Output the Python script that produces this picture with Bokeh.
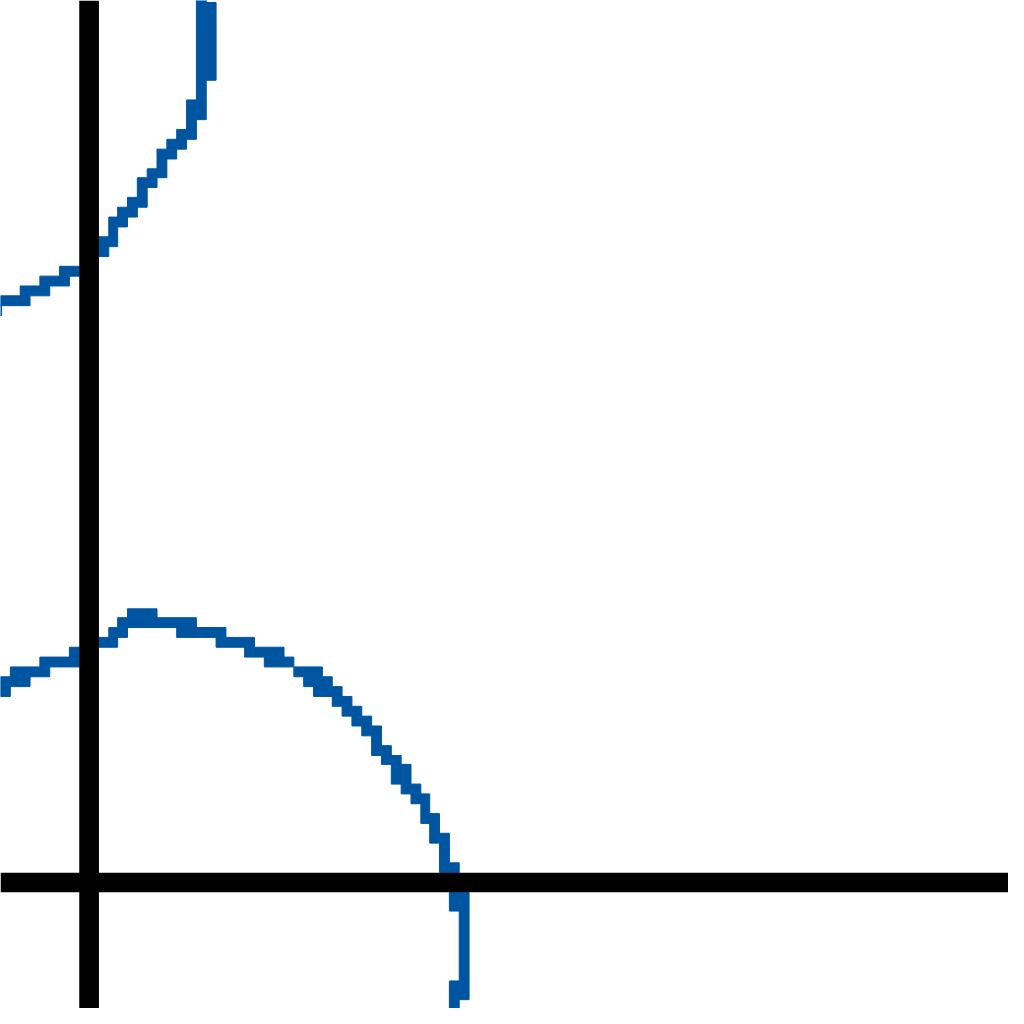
from bokeh.plotting import figure
from bokeh.models import Range1d, Span
from bokeh.embed import file_html
from bokeh.resources import INLINE

# Upper branch: step cells (left, right, bottom, top) in plot units, origin at the axes' crossing
upper_left   = [109, 119, 99, 89, 79, 69, 69, 59, 49, 49, 39, 29, 20, 20, 10, 10, -30, -50, -70, -90, -100]
upper_right  = [119, 129, 109, 99, 99, 89, 79, 69, 69, 59, 49, 49, 39, 29, 29, 20, -10, -20, -40, -60, -89]
upper_bottom = [775, 815, 755, 755, 745, 735, 716, 716, 706, 686, 686, 676, 666, 656, 646, 636, 616, 606, 596, 586, 576]
upper_top    = [900, 894, 795, 765, 755, 745, 735, 725, 716, 706, 696, 686, 676, 666, 656, 646, 626, 616, 606, 596, 586]

# Lower branch
lower_left   = [-90, -80, -60, -50, -20, 10, 20, 29, 39, 69, 89, 129, 158, 178, 208, 218, 228, 247, 257, 267,
                277, 287, 287, 297, 307, 317, 327, 337, 337, 346, 346, 356, 356, 366, 376, 366, 366]
lower_right  = [-80, -60, -40, -10, -10, 29, 39, 69, 69, 109, 139, 168, 198, 208, 237, 247, 257, 267, 277, 287,
                297, 297, 307, 317, 327, 337, 346, 346, 356, 356, 366, 366, 376, 386, 386, 386, 376]
lower_bottom = [189, 199, 209, 219, 229, 239, 249, 259, 269, 259, 249, 239, 229, 219, 209, 199, 189, 179, 169, 159,
                149, 139, 129, 120, 100, 90, 80, 70, 60, 50, 40, 20, 10, -29, -100, -119, -135]
lower_top    = [209, 219, 219, 229, 239, 249, 259, 269, 278, 269, 259, 249, 239, 229, 219, 209, 199, 189, 179, 169,
                159, 149, 139, 129, 120, 100, 90, 80, 70, 60, 50, 40, 20, -10, -29, -100, -119]

BLUE = "#0055A0"
SIZE = 1008
SCALE = SIZE / 1024.0

p = figure(width=SIZE, height=SIZE, output_backend="svg", toolbar_location=None,
           x_range=Range1d(-90, 934), y_range=Range1d(-128, 896),
           min_border=0, outline_line_color=None)
p.axis.visible = False
p.grid.visible = False
p.background_fill_color = "white"
p.border_fill_color = "white"

p.quad(left=upper_left, right=upper_right, bottom=upper_bottom, top=upper_top,
       fill_color=BLUE, line_color=BLUE, line_width=1)
p.quad(left=lower_left, right=lower_right, bottom=lower_bottom, top=lower_top,
       fill_color=BLUE, line_color=BLUE, line_width=1)

p.add_layout(Span(location=0, dimension="height", line_color="black", line_width=20 * SCALE))
p.add_layout(Span(location=0, dimension="width", line_color="black", line_width=20 * SCALE))

open("out.html", "w").write(file_html(p, INLINE))
